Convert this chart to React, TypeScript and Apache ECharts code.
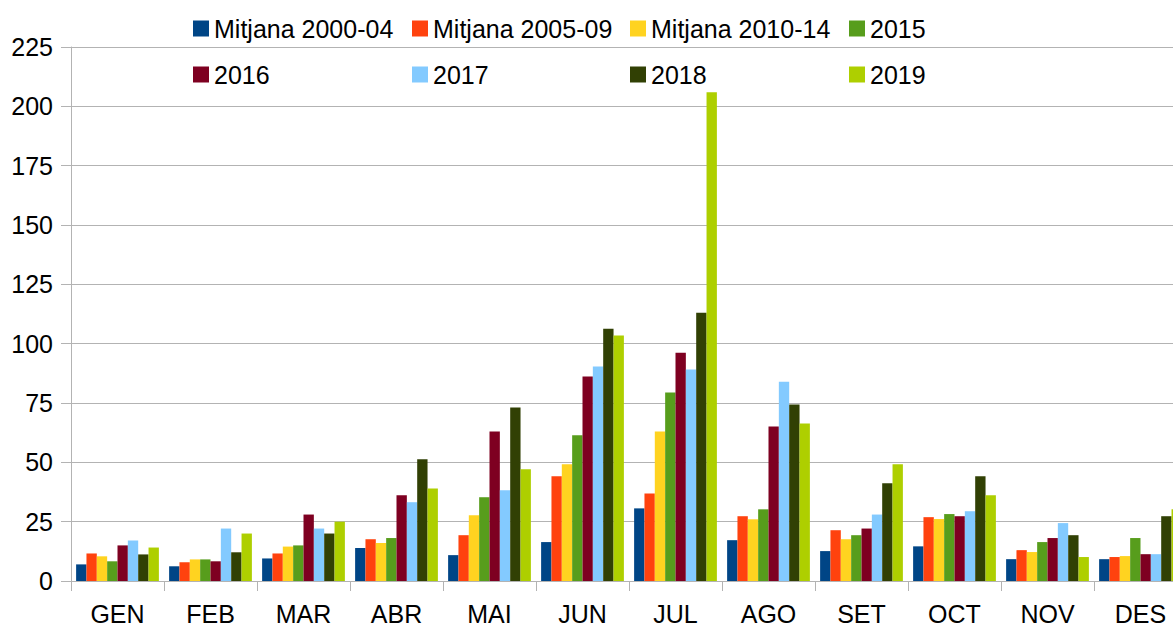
import React, { useEffect, useRef } from "react";
import * as echarts from "echarts";

const categories = ["GEN", "FEB", "MAR", "ABR", "MAI", "JUN", "JUL", "AGO", "SET", "OCT", "NOV", "DES"];
const seriesNames = ["Mitjana 2000-04", "Mitjana 2005-09", "Mitjana 2010-14", "2015", "2016", "2017", "2018", "2019"];
const seriesColors = ["#004586", "#ff420e", "#ffd320", "#579d1c", "#7e0021", "#83caff", "#314004", "#aecf00"];

const mitjana0004 = [7.0, 6.2, 9.5, 13.9, 10.9, 16.4, 30.6, 17.2, 12.6, 14.6, 9.2, 9.2];
const mitjana0509 = [11.6, 7.9, 11.6, 17.6, 19.3, 44.1, 36.9, 27.3, 21.4, 26.9, 13.0, 10.1];
const mitjana1014 = [10.4, 9.1, 14.5, 16.0, 27.7, 49.2, 63.0, 26.0, 17.6, 26.1, 12.2, 10.5];
const y2015 = [8.3, 9.1, 15.0, 18.1, 35.3, 61.4, 79.4, 30.2, 19.3, 28.2, 16.4, 18.1];
const y2016 = [15.0, 8.3, 28.0, 36.1, 63.0, 86.2, 96.2, 65.1, 22.1, 27.3, 18.1, 11.3];
const y2017 = [17.1, 22.1, 22.1, 33.2, 38.2, 90.4, 89.1, 84.0, 28.0, 29.4, 24.4, 11.3];
const y2018 = [11.2, 12.1, 20.0, 51.3, 73.1, 106.3, 113.0, 74.4, 41.2, 44.1, 19.3, 27.3];
const y2019 = [14.1, 20.0, 25.0, 39.0, 47.1, 103.4, 205.9, 66.4, 49.2, 36.1, 10.1, 30.2];

const seriesData = [mitjana0004, mitjana0509, mitjana1014, y2015, y2016, y2017, y2018, y2019];

const FONT = "'Liberation Sans', Arial, sans-serif";

export default function App() {
  const ref = useRef<HTMLDivElement>(null);

  useEffect(() => {
    if (!ref.current) return;
    const chart = echarts.init(ref.current, null, { renderer: "svg" });

    const legendX = [193, 412, 630, 849];
    const legendY = [16, 62];
    const legends = seriesNames.map((name, i) => ({
      data: [name],
      left: legendX[i % 4],
      top: legendY[Math.floor(i / 4)],
      icon: "rect",
      itemWidth: 16,
      itemHeight: 16,
      padding: 0,
      selectedMode: false,
      textStyle: { fontSize: 25, color: "#000", fontFamily: FONT },
    }));

    chart.setOption({
      animation: false,
      backgroundColor: "#fff",
      textStyle: { fontFamily: FONT },
      legend: legends,
      grid: { left: 71, right: 0, top: 47, bottom: 45, containLabel: false },
      xAxis: {
        type: "category",
        data: categories,
        axisLine: { show: true, lineStyle: { color: "#b3b3b3", width: 1 } },
        axisTick: { show: true, length: 10, alignWithLabel: false, lineStyle: { color: "#b3b3b3" } },
        axisLabel: { fontSize: 25, color: "#000", margin: 20, fontFamily: FONT },
        splitLine: { show: false },
      },
      yAxis: {
        type: "value",
        min: 0,
        max: 225,
        interval: 25,
        axisLine: { show: true, lineStyle: { color: "#b3b3b3", width: 1 } },
        axisTick: { show: true, length: 10, lineStyle: { color: "#b3b3b3" } },
        axisLabel: { fontSize: 25, color: "#000", margin: 18, fontFamily: FONT },
        splitLine: { show: true, lineStyle: { color: "#b3b3b3", width: 1 } },
      },
      series: seriesNames.map((name, i) => ({
        name,
        type: "bar",
        data: seriesData[i],
        barGap: "0%",
        barCategoryGap: "11%",
        itemStyle: { color: seriesColors[i] },
      })),
    });

    return () => chart.dispose();
  }, []);

  return (
    <div
      style={{
        position: "fixed",
        left: 0,
        top: 0,
        width: 1173,
        height: 626,
        overflow: "hidden",
        background: "#fff",
      }}
    >
      <div ref={ref} style={{ width: 1187, height: 626 }} />
    </div>
  );
}
